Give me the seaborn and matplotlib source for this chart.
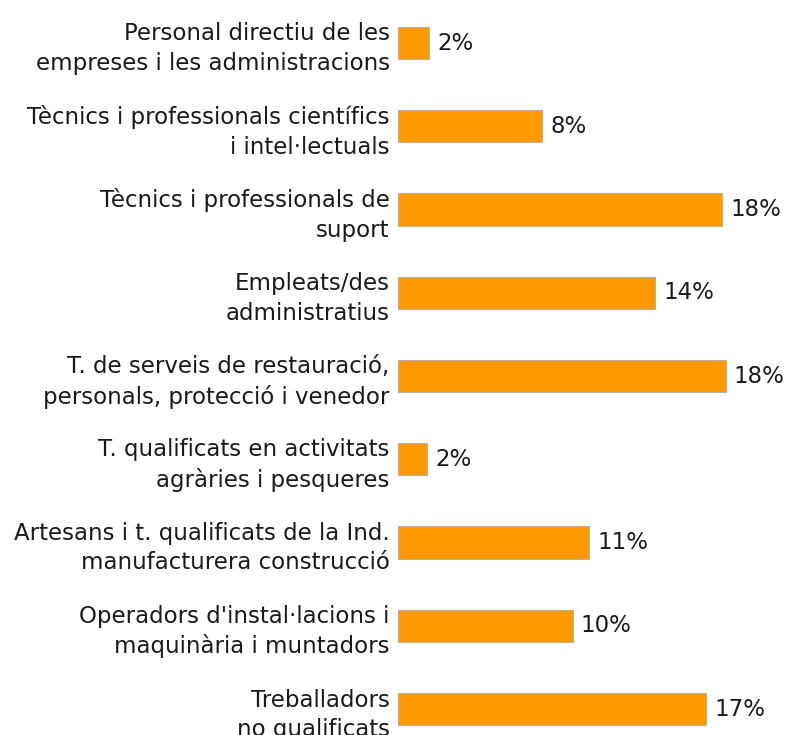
import matplotlib
matplotlib.use("Agg")
import matplotlib.pyplot as plt
import pandas as pd
import seaborn as sns

CATEGORIES = [
    "Personal directiu de les\nempreses i les administracions",
    "Tècnics i professionals científics\ni intel·lectuals",
    "Tècnics i professionals de\nsuport",
    "Empleats/des\nadministratius",
    "T. de serveis de restauració,\npersonals, protecció i venedor",
    "T. qualificats en activitats\nagràries i pesqueres",
    "Artesans i t. qualificats de la Ind.\nmanufacturera construcció",
    "Operadors d'instal·lacions i\nmaquinària i muntadors",
    "Treballadors\nno qualificats",
]
VALUES = [1.7, 8.0, 18.0, 14.3, 18.2, 1.6, 10.6, 9.7, 17.1]

BAR_COLOR = "#FF9900"

df = pd.DataFrame({"categoria": CATEGORIES, "pct": VALUES})

sns.set_theme(style="white")
plt.rcParams["font.family"] = ["DejaVu Sans"]

fig = plt.figure(figsize=(7.92, 7.35), dpi=100)
ax = fig.add_axes([398 / 792, 0, 1 - 398 / 792, 1])

sns.barplot(data=df, x="pct", y="categoria", orient="h", color=BAR_COLOR,
            saturation=1, width=0.39, edgecolor="#bbb0a0", linewidth=0.8, ax=ax)

ax.set_xlim(0, 394 / 18)
ax.set_ylim(8 + 26 / 83.25, -43 / 83.25)

for i, v in enumerate(VALUES):
    ax.annotate(f"{round(v)}%", xy=(v, i), xytext=(6, 0), textcoords="offset points",
                ha="left", va="center", fontsize=16.5, color="#1a1a1a")

ax.set_xlabel("")
ax.set_ylabel("")
ax.set_xticks([])
ax.tick_params(axis="y", length=0, pad=6)
for lab in ax.get_yticklabels():
    lab.set_fontsize(16.5)
    lab.set_color("#1a1a1a")
    lab.set_linespacing(1.35)
sns.despine(ax=ax, left=True, bottom=True)

fig.savefig("out.png", dpi=100)
